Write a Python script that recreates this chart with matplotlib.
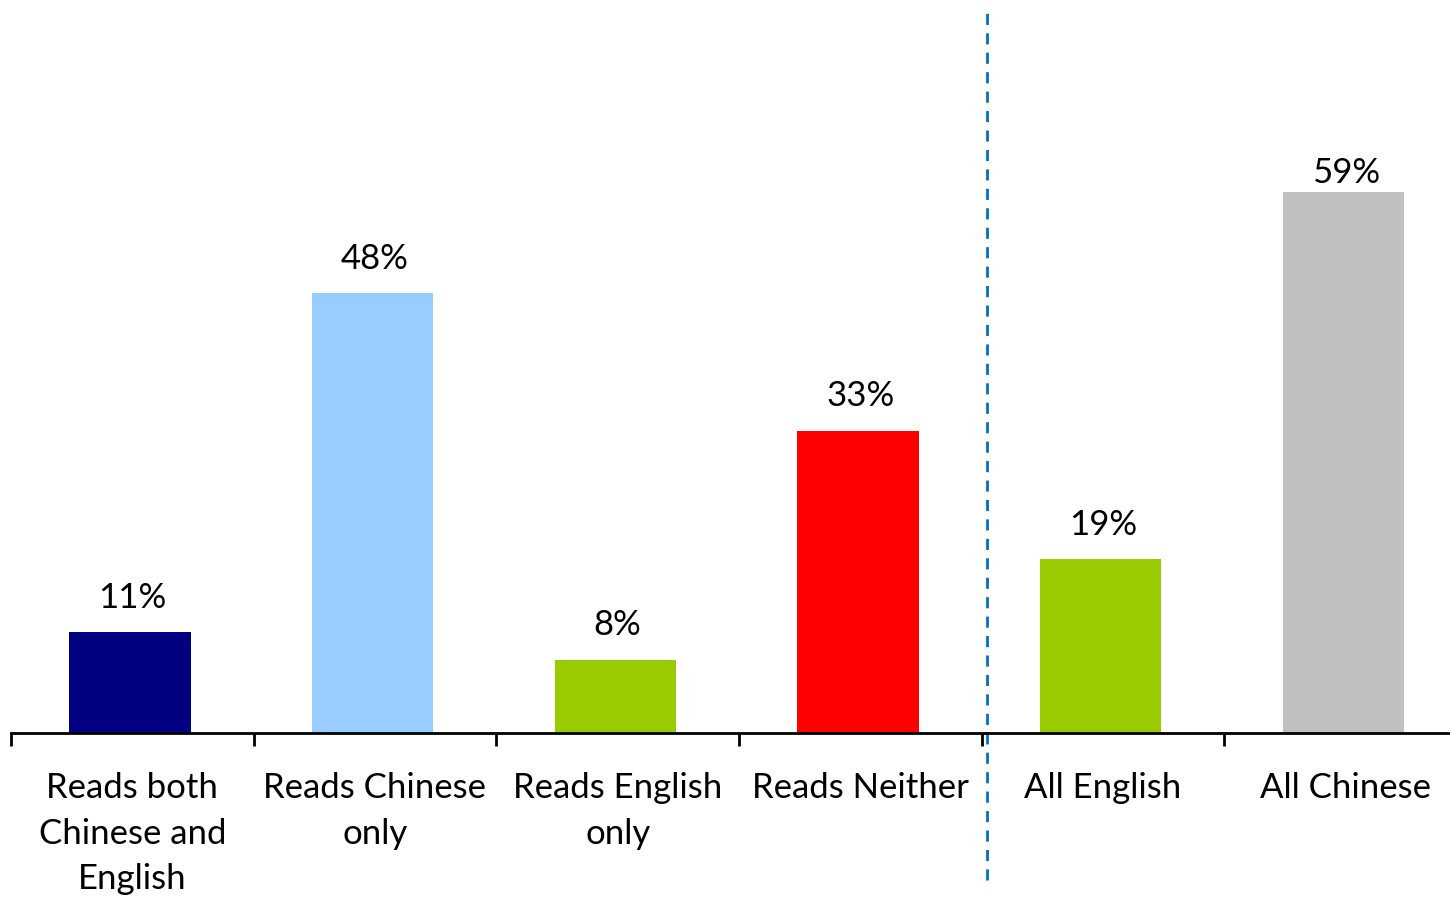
import matplotlib.pyplot as plt

# reading ability shares, plus the all-English / all-Chinese totals
categories = ["Reads both\nChinese and\nEnglish", "Reads Chinese\nonly", "Reads English\nonly",
              "Reads Neither", "All English", "All Chinese"]
values = [11, 48, 8, 33, 19, 59]
colors = ["#000080", "#99CCFF", "#99CC00", "#FF0000", "#99CC00", "#C0C0C0"]

plt.rcParams['font.family'] = ['Lato', 'DejaVu Sans']

fig = plt.figure(figsize=(14.5, 8.99), dpi=100)
ax = fig.add_axes([11/1450, 1 - 733/899, 1 - 11/1450, 733/899])

x = range(len(values))
bars = ax.bar([xi - 0.01 for xi in x], values, width=0.5, color=colors, zorder=2)
for xi, v in zip(x, values):
    # labels near the top get pulled down toward the bar
    ax.text(xi, min(v + 2.0, 59.4), f"{v}%", ha='center', va='bottom', fontsize=25)

ax.set_xlim(-0.5, 5.43)
ax.set_ylim(0, 80)
ax.set_yticks([])
for s in ['top', 'right', 'left']:
    ax.spines[s].set_visible(False)
ax.spines['bottom'].set_linewidth(2)

# category boundaries as tick marks, labels centered under the bars
ax.set_xticks([i - 0.5 for i in range(6)])
ax.set_xticklabels([])
ax.tick_params(axis='x', length=9, width=2, direction='out')
for xi, lab in zip(x, categories):
    ax.text(xi, -4.3, lab, ha='center', va='top', fontsize=25, linespacing=1.52)

# separator between the groups
ax.plot([3.52, 3.52], [-16, 79], color='#0070C0', lw=2, ls=(0, (4, 3)), clip_on=False)

fig.savefig("out.png", dpi=100)
